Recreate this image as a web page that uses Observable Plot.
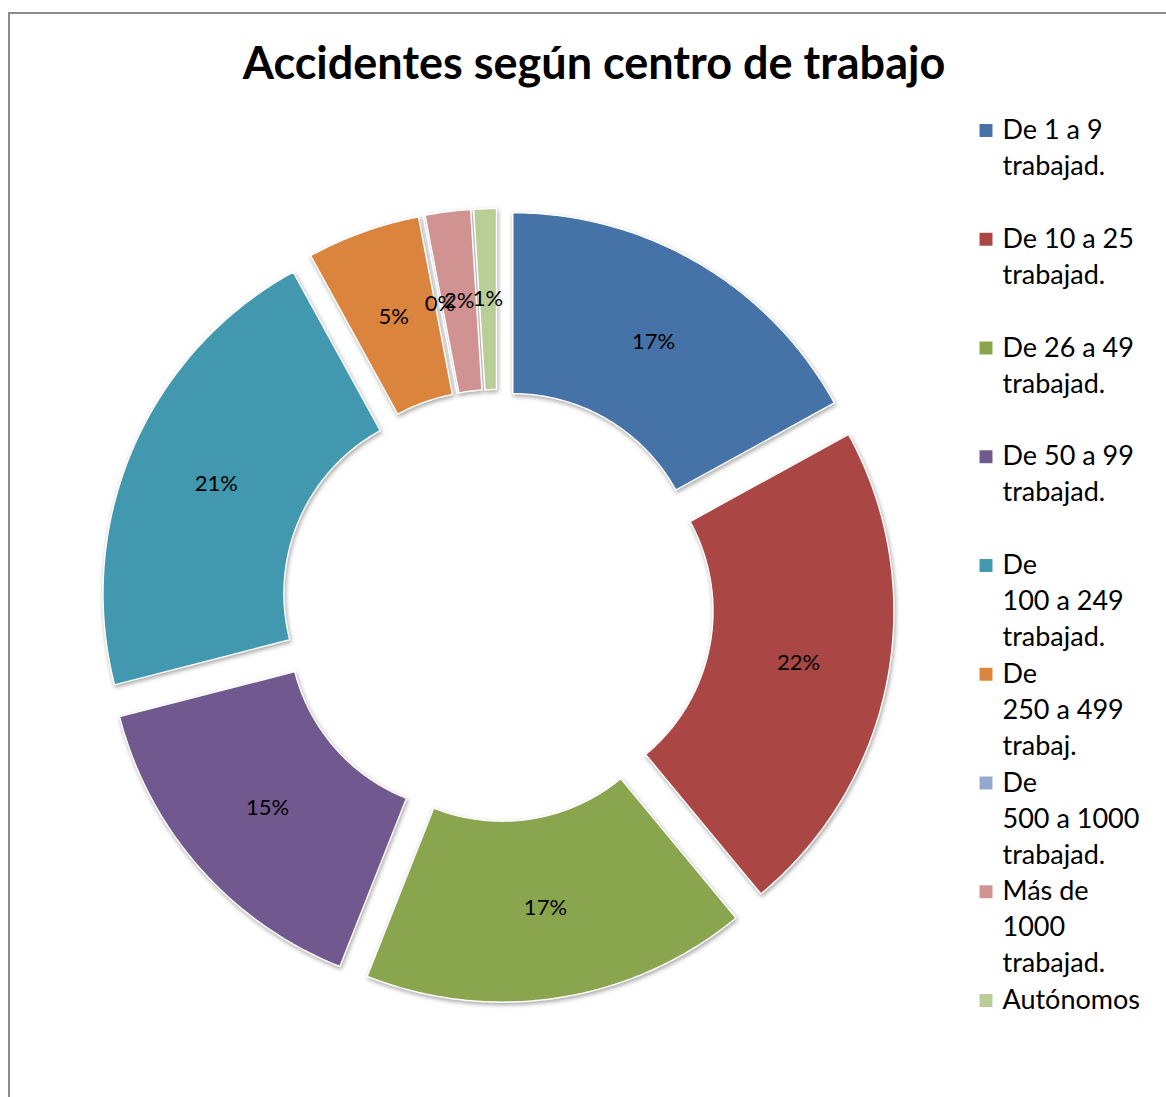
<!DOCTYPE html>
<html>
<head>
<meta charset="utf-8">
<script src="https://cdn.jsdelivr.net/npm/d3@7"></script>
<script src="https://cdn.jsdelivr.net/npm/@observablehq/plot@0.6"></script>
<style>
  body { margin: 0; background: #fff; }
  #wrap { position: relative; width: 1166px; height: 1097px; overflow: hidden; background: #fff; }
  #frame { position: absolute; left: 8px; top: 12px; width: 3000px; height: 3000px; border: 2px solid #8c8c8c; box-sizing: border-box; }
  #title { position: absolute; top: 35px; left: 594px; transform: translateX(-50%); white-space: nowrap;
           font-family: Lato, "Open Sans", sans-serif; font-weight: bold; font-size: 45px; color: #000; }
  #chart { position: absolute; left: 0; top: 0; }
</style>
</head>
<body>
<div id="wrap">
  <div id="frame"></div>
  <div id="chart"></div>
  <div id="title">Accidentes según centro de trabajo</div>
</div>
<script>
// ---- data ----
const categories = [
  "De 1 a 9 trabajad.",
  "De 10 a 25 trabajad.",
  "De 26 a 49 trabajad.",
  "De 50 a 99 trabajad.",
  "De 100 a 249 trabajad.",
  "De 250 a 499 trabaj.",
  "De 500 a 1000 trabajad.",
  "Más de 1000 trabajad.",
  "Autónomos"
];
const values = [17, 22, 17, 15, 21, 5, 0, 2, 1];
const legendLines = [
  ["De 1 a 9", "trabajad."],
  ["De 10 a 25", "trabajad."],
  ["De 26 a 49", "trabajad."],
  ["De 50 a 99", "trabajad."],
  ["De", "100 a 249", "trabajad."],
  ["De", "250 a 499", "trabaj."],
  ["De", "500 a 1000", "trabajad."],
  ["Más de", "1000", "trabajad."],
  ["Autónomos"]
];
const colors = ["#4572A7", "#AA4643", "#89A54E", "#71588F", "#4198AF", "#DB843D", "#93A9CF", "#D19392", "#B9CD96"];

// ---- layout ----
const W = 1166, H = 1097;
const cx = 497, cy = 605, R = 367, r = 186, explode = 30;
const legendX = 1002, legendY0 = 130, legendStep = 108.75, legendLine = 36;
const font = 'Lato, "Open Sans", sans-serif';

const total = d3.sum(values);
let acc = 0;
const slices = categories.map((cat, i) => {
  const a0 = acc / total * 2 * Math.PI;
  acc += values[i];
  const a1 = acc / total * 2 * Math.PI;
  const mid = (a0 + a1) / 2;
  return {cat, value: values[i], a0, a1, mid,
          dx: explode * Math.sin(mid), dy: -explode * Math.cos(mid)};
});

const pts = [];
for (const s of slices) {
  const n = Math.max(2, Math.ceil((s.a1 - s.a0) / 0.01));
  for (let k = 0; k <= n; k++) {
    const a = s.a0 + (s.a1 - s.a0) * k / n;
    pts.push({cat: s.cat, x: cx + s.dx + R * Math.sin(a), y: cy + s.dy - R * Math.cos(a)});
  }
  for (let k = n; k >= 0; k--) {
    const a = s.a0 + (s.a1 - s.a0) * k / n;
    pts.push({cat: s.cat, x: cx + s.dx + r * Math.sin(a), y: cy + s.dy - r * Math.cos(a)});
  }
}

const labelR = (R + r) / 2;
const labels = slices.map(s => ({
  text: Math.round(s.value) + "%",
  x: cx + s.dx + labelR * Math.sin(s.mid),
  y: cy + s.dy - labelR * Math.cos(s.mid)
}));

const legendSw = categories.map((cat, i) => ({cat, x: legendX - 16.5, y: legendY0 + i * legendStep}));
const legendTx = [];
legendLines.forEach((lines, i) => lines.forEach((t, k) =>
  legendTx.push({text: t, x: legendX, y: legendY0 + i * legendStep + k * legendLine})));

const chart = Plot.plot({
  width: W, height: H, margin: 0,
  style: {fontFamily: font, background: "transparent"},
  x: {domain: [0, W], range: [0, W], axis: null},
  y: {domain: [0, H], range: [0, H], axis: null},
  color: {domain: categories, range: colors},
  marks: [
    Plot.line(pts, {x: "x", y: "y", z: "cat", fill: "cat", stroke: "white", strokeWidth: 1.5,
                    curve: "linear-closed", imageFilter: "drop-shadow(1px 2px 2px rgba(0,0,0,0.35))"}),
    Plot.text(labels, {x: "x", y: "y", text: "text", fontSize: 22, fill: "black"}),
    Plot.dot(legendSw, {x: "x", y: "y", fill: "cat", symbol: "square", r: 7.3}),
    Plot.text(legendTx, {x: "x", y: "y", text: "text", textAnchor: "start", fontSize: 27, fill: "black"})
  ]
});
document.getElementById("chart").append(chart);
</script>
</body>
</html>
